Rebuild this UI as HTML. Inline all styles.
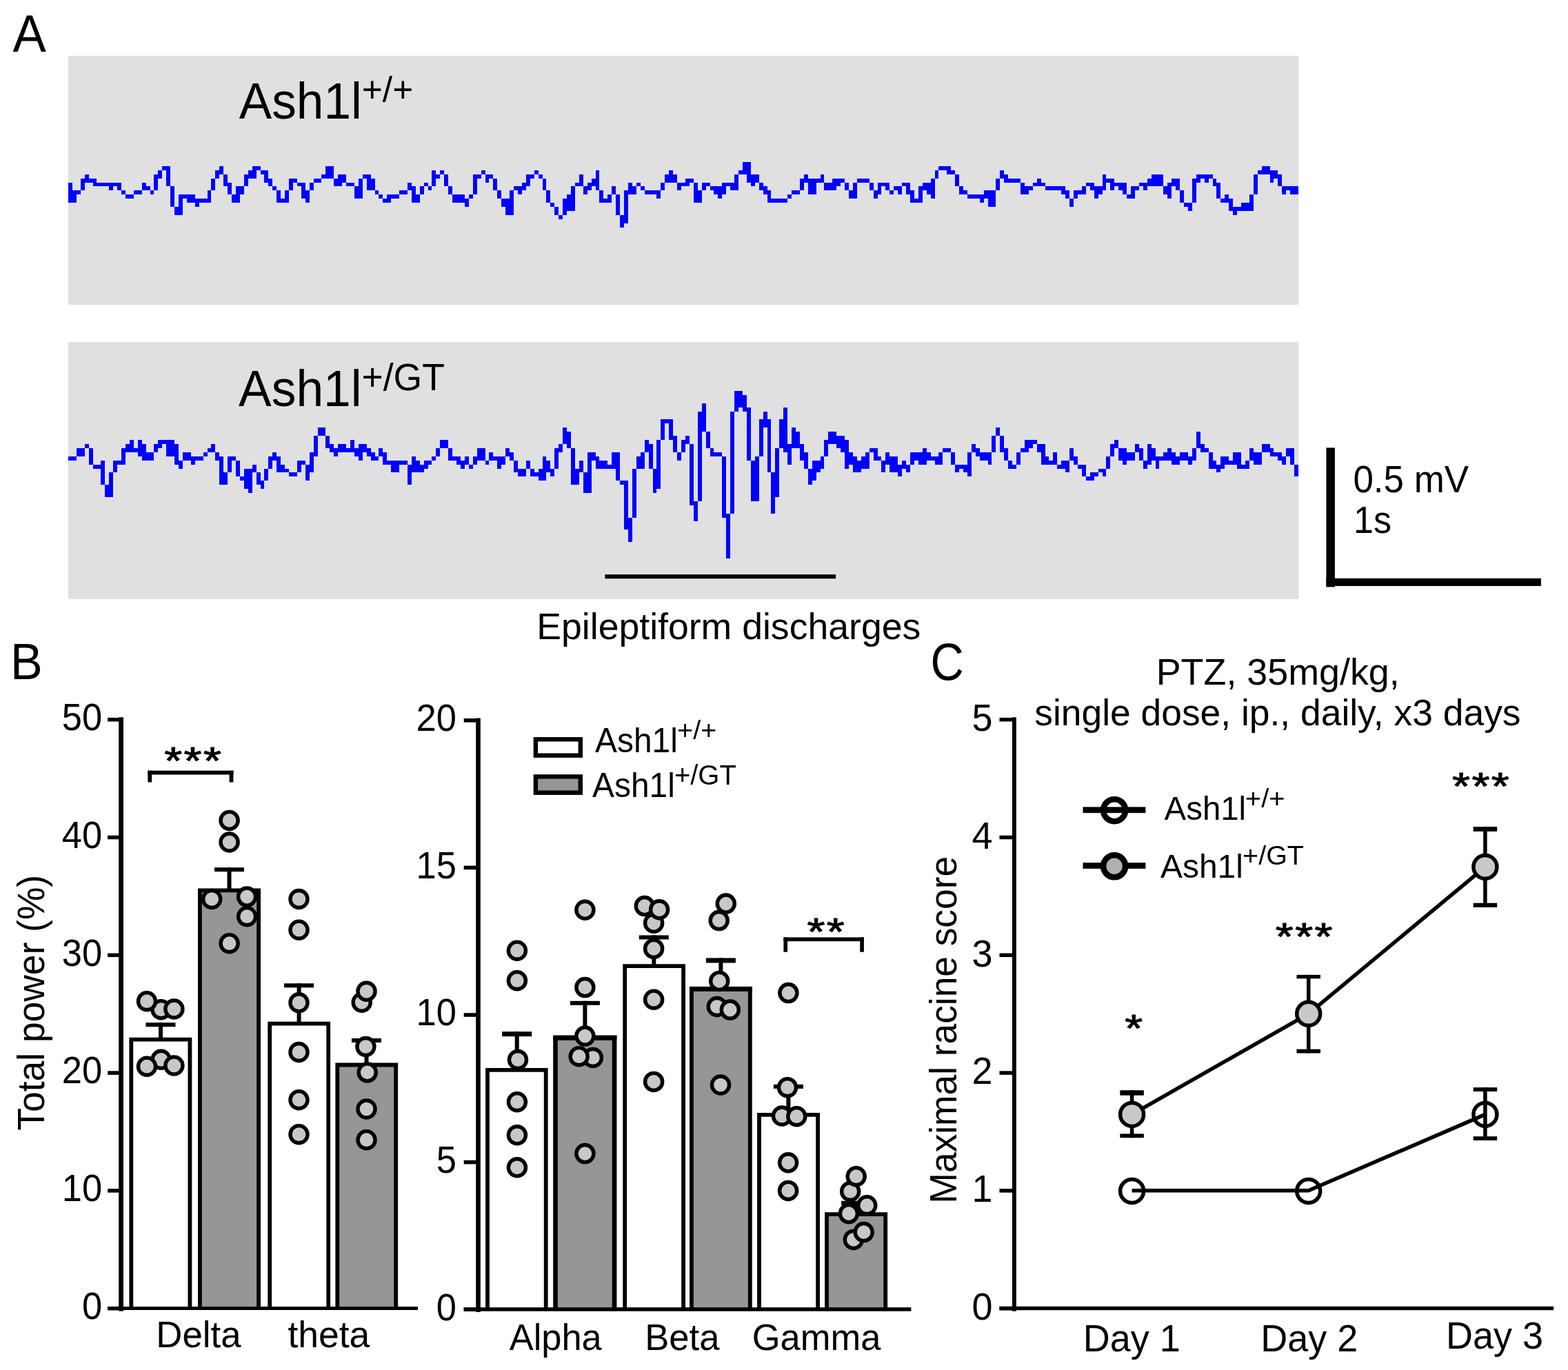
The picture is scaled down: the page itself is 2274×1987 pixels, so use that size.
<!DOCTYPE html>
<html lang="en">
<head>
<meta charset="utf-8">
<title>Ash1l EEG and seizure susceptibility figure</title>
<style>
html,body{margin:0;padding:0;background:#fff;}
body{width:2274px;height:1987px;overflow:hidden;}
svg{display:block;}
svg text{font-family:"Liberation Sans", sans-serif;fill:#000;}
</style>
</head>
<body>
<svg width="2274" height="1987" viewBox="0 0 2274 1987">
<rect x="0" y="0" width="2274" height="1987" fill="#fff"/>
<g id="panelA">
<rect x="99" y="81" width="1784.4" height="361" fill="#e0e0e0"/>
<rect x="99" y="496" width="1784.4" height="373" fill="#e0e0e0"/>
<text transform="translate(18.5 75) scale(1 1.045)" font-size="72.5">A</text>
<text transform="translate(346.7 171.6) scale(1 1.03)" font-size="71.25">Ash1l</text>
<text transform="translate(524.8 148.2) scale(1 1.005)" font-size="51.5">+/+</text>
<text transform="translate(346.1 589.3) scale(1 1.03)" font-size="71.4">Ash1l</text>
<text transform="translate(524.5 565.6) scale(1 1.03)" font-size="53.5">+/GT</text>
<path id="trace-wt" shape-rendering="crispEdges" fill="#0000ff" d="M99 265h6v29h-6zM105 276h6v18h-6zM111 276h6v6h-6zM117 259h6v17h-6zM123 253h6v12h-6zM129 259h6v6h-6zM135 259h5v11h-5zM140 265h18v5h-18zM158 265h6v11h-6zM164 265h6v5h-6zM170 265h6v11h-6zM176 276h6v6h-6zM182 282h12v6h-12zM194 276h12v6h-12zM206 265h6v11h-6zM212 270h6v6h-6zM218 276h5v6h-5zM223 253h6v23h-6zM229 247h6v12h-6zM235 241h6v6h-6zM241 241h6v29h-6zM247 270h6v30h-6zM253 300h6v12h-6zM259 282h6v30h-6zM265 282h6v6h-6zM271 282h12v12h-12zM283 288h6v12h-6zM289 288h12v6h-12zM301 276h5v18h-5zM306 259h6v17h-6zM312 247h6v12h-6zM318 241h6v12h-6zM324 253h6v17h-6zM330 265h6v17h-6zM336 282h6v12h-6zM342 270h6v24h-6zM348 270h6v12h-6zM354 253h6v17h-6zM360 247h6v12h-6zM366 241h6v18h-6zM372 241h6v6h-6zM378 247h5v6h-5zM383 247h6v18h-6zM389 259h6v11h-6zM395 270h6v6h-6zM401 276h6v18h-6zM407 288h6v6h-6zM413 276h6v18h-6zM419 259h6v17h-6zM425 259h6v6h-6zM431 265h6v5h-6zM437 265h6v23h-6zM443 276h6v18h-6zM449 265h6v11h-6zM455 259h11v6h-11zM466 253h6v6h-6zM472 241h12v18h-12zM484 259h6v11h-6zM490 253h6v17h-6zM496 253h6v12h-6zM502 265h12v5h-12zM514 270h6v18h-6zM520 259h6v29h-6zM526 253h6v6h-6zM532 253h6v23h-6zM538 259h6v17h-6zM544 276h5v6h-5zM549 282h6v6h-6zM555 288h6v6h-6zM561 282h6v12h-6zM567 282h12v6h-12zM579 276h12v6h-12zM591 265h6v11h-6zM597 270h6v24h-6zM603 282h6v12h-6zM609 270h6v12h-6zM615 265h6v5h-6zM621 270h5v6h-5zM626 247h6v23h-6zM632 253h6v6h-6zM638 247h6v6h-6zM644 253h6v17h-6zM650 270h6v12h-6zM656 282h18v12h-18zM674 288h6v12h-6zM680 282h6v6h-6zM686 253h6v29h-6zM692 253h6v6h-6zM698 247h6v6h-6zM704 253h5v12h-5zM709 253h6v6h-6zM715 259h6v17h-6zM721 276h6v12h-6zM727 288h6v12h-6zM733 288h6v24h-6zM739 276h6v36h-6zM745 270h6v6h-6zM751 270h6v12h-6zM757 265h6v11h-6zM763 253h6v17h-6zM769 253h6v6h-6zM775 247h6v6h-6zM781 253h6v6h-6zM787 259h5v17h-5zM792 276h6v18h-6zM798 294h6v6h-6zM804 300h6v12h-6zM810 312h6v6h-6zM816 288h6v24h-6zM822 282h6v24h-6zM828 270h6v36h-6zM834 265h6v5h-6zM840 253h6v17h-6zM846 270h6v12h-6zM852 265h6v11h-6zM858 259h6v11h-6zM864 247h5v29h-5zM869 276h6v18h-6zM875 288h6v6h-6zM881 282h6v12h-6zM887 270h6v12h-6zM893 282h6v30h-6zM899 312h6v18h-6zM905 276h6v48h-6zM911 265h6v17h-6zM917 270h6v12h-6zM923 265h6v5h-6zM929 270h6v6h-6zM935 276h17v6h-17zM952 276h6v12h-6zM958 265h6v11h-6zM964 253h6v12h-6zM970 247h6v18h-6zM976 253h6v12h-6zM982 265h6v11h-6zM988 265h6v5h-6zM994 259h6v11h-6zM1000 259h6v6h-6zM1006 265h6v29h-6zM1012 276h6v18h-6zM1018 265h6v11h-6zM1024 265h6v5h-6zM1030 270h5v6h-5zM1035 270h6v12h-6zM1041 270h6v18h-6zM1047 265h6v17h-6zM1053 265h6v5h-6zM1059 265h6v11h-6zM1065 253h6v23h-6zM1071 247h6v6h-6zM1077 235h6v18h-6zM1083 235h6v30h-6zM1089 253h6v17h-6zM1095 253h6v12h-6zM1101 265h6v11h-6zM1107 270h6v12h-6zM1113 276h5v18h-5zM1118 288h24v6h-24zM1142 282h6v6h-6zM1148 276h12v6h-12zM1160 259h6v17h-6zM1166 253h6v12h-6zM1172 259h12v23h-12zM1184 259h6v6h-6zM1190 253h5v12h-5zM1195 265h12v11h-12zM1207 259h6v17h-6zM1213 259h6v11h-6zM1219 259h6v6h-6zM1225 265h6v11h-6zM1231 276h6v12h-6zM1237 265h6v23h-6zM1243 259h18v6h-18zM1261 265h6v11h-6zM1267 276h6v12h-6zM1273 265h5v17h-5zM1278 265h6v5h-6zM1284 265h6v11h-6zM1290 276h6v6h-6zM1296 270h6v6h-6zM1302 270h6v12h-6zM1308 265h6v5h-6zM1314 265h6v17h-6zM1320 276h6v18h-6zM1326 288h6v6h-6zM1332 270h6v24h-6zM1338 265h6v11h-6zM1344 265h6v17h-6zM1350 259h6v29h-6zM1356 247h5v12h-5zM1361 241h12v6h-12zM1373 241h6v12h-6zM1379 247h6v6h-6zM1385 253h6v17h-6zM1391 270h6v12h-6zM1397 276h6v6h-6zM1403 282h18v6h-18zM1421 282h6v12h-6zM1427 276h6v12h-6zM1433 276h11v24h-11zM1444 259h6v17h-6zM1450 247h6v12h-6zM1456 253h6v12h-6zM1462 259h18v6h-18zM1480 265h6v17h-6zM1486 270h6v12h-6zM1492 270h6v6h-6zM1498 265h6v5h-6zM1504 259h6v11h-6zM1510 265h6v5h-6zM1516 270h23v6h-23zM1539 270h6v12h-6zM1545 276h6v12h-6zM1551 288h6v12h-6zM1557 276h6v12h-6zM1563 276h6v6h-6zM1569 270h6v12h-6zM1575 265h6v5h-6zM1581 265h6v11h-6zM1587 270h6v18h-6zM1593 270h6v12h-6zM1599 253h5v23h-5zM1604 259h6v6h-6zM1610 259h6v17h-6zM1616 265h6v5h-6zM1622 265h6v11h-6zM1628 265h6v17h-6zM1634 282h6v6h-6zM1640 270h6v18h-6zM1646 270h6v6h-6zM1652 265h6v5h-6zM1658 265h6v11h-6zM1664 259h6v11h-6zM1670 253h17v17h-17zM1687 270h6v12h-6zM1693 265h6v23h-6zM1699 259h6v11h-6zM1705 259h6v17h-6zM1711 276h6v18h-6zM1717 294h6v6h-6zM1723 294h6v12h-6zM1729 259h6v35h-6zM1735 253h6v12h-6zM1741 253h6v6h-6zM1747 253h6v12h-6zM1753 253h6v6h-6zM1759 259h5v11h-5zM1764 265h6v23h-6zM1770 288h6v6h-6zM1776 282h6v12h-6zM1782 288h6v18h-6zM1788 300h6v12h-6zM1794 300h6v6h-6zM1800 294h12v12h-12zM1812 282h6v24h-6zM1818 253h6v29h-6zM1824 247h6v6h-6zM1830 241h12v12h-12zM1842 247h5v18h-5zM1847 247h6v12h-6zM1853 253h6v17h-6zM1859 270h6v12h-6zM1865 270h6v6h-6zM1871 270h12v12h-12z"/>
<path id="trace-gt" shape-rendering="crispEdges" fill="#0000ff" d="M99 662h12v6h-12zM111 650h12v12h-12zM123 644h6v6h-6zM129 650h6v24h-6zM135 674h11v6h-11zM146 668h6v35h-6zM152 703h6v18h-6zM158 685h6v36h-6zM164 668h6v17h-6zM170 668h6v6h-6zM176 650h6v24h-6zM182 644h6v12h-6zM188 638h6v18h-6zM194 650h6v6h-6zM200 638h6v24h-6zM206 644h6v24h-6zM212 656h11v12h-11zM223 644h6v12h-6zM229 638h6v12h-6zM235 638h6v6h-6zM241 638h12v24h-12zM253 644h6v30h-6zM259 668h6v12h-6zM265 656h12v12h-12zM277 662h6v12h-6zM283 662h12v6h-12zM295 656h6v6h-6zM301 650h5v6h-5zM306 644h6v12h-6zM312 656h6v12h-6zM318 662h6v41h-6zM324 685h6v18h-6zM330 662h6v23h-6zM336 662h6v6h-6zM342 668h6v23h-6zM348 691h6v6h-6zM354 680h6v29h-6zM360 680h6v35h-6zM366 674h6v11h-6zM372 685h6v18h-6zM378 697h5v12h-5zM383 680h6v17h-6zM389 662h6v18h-6zM395 656h6v12h-6zM401 662h6v23h-6zM407 674h6v11h-6zM413 680h6v5h-6zM419 685h12v6h-12zM431 668h6v17h-6zM437 668h6v6h-6zM443 674h6v23h-6zM449 656h6v29h-6zM455 632h6v30h-6zM461 620h11v12h-11zM472 632h6v18h-6zM478 644h6v12h-6zM484 650h6v12h-6zM490 644h12v12h-12zM502 650h6v6h-6zM508 638h6v18h-6zM514 650h6v12h-6zM520 644h6v24h-6zM526 644h6v12h-6zM532 650h6v12h-6zM538 656h6v12h-6zM544 662h5v6h-5zM549 650h6v12h-6zM555 656h6v18h-6zM561 668h6v6h-6zM567 668h12v17h-12zM579 668h12v6h-12zM591 674h6v29h-6zM597 662h6v23h-6zM603 668h6v17h-6zM609 674h6v11h-6zM615 668h6v12h-6zM621 668h5v6h-5zM626 662h6v6h-6zM632 650h6v12h-6zM638 638h12v12h-12zM650 650h6v18h-6zM656 662h6v6h-6zM662 662h6v12h-6zM668 668h6v12h-6zM674 662h6v12h-6zM680 674h6v6h-6zM686 662h6v12h-6zM692 650h12v18h-12zM704 668h5v6h-5zM709 656h6v12h-6zM715 662h6v6h-6zM721 662h6v18h-6zM727 662h6v12h-6zM733 650h6v12h-6zM739 656h6v12h-6zM745 668h6v17h-6zM751 680h12v11h-12zM763 668h6v12h-6zM769 680h6v11h-6zM775 685h6v6h-6zM781 680h6v17h-6zM787 662h5v35h-5zM792 668h6v17h-6zM798 680h6v11h-6zM804 650h6v30h-6zM810 644h6v12h-6zM816 620h6v24h-6zM822 626h6v24h-6zM828 650h6v53h-6zM834 680h6v23h-6zM840 668h6v17h-6zM846 685h6v30h-6zM852 656h6v59h-6zM858 656h6v12h-6zM864 662h5v18h-5zM869 668h12v12h-12zM881 674h6v6h-6zM887 656h6v24h-6zM893 656h6v41h-6zM899 697h6v6h-6zM905 697h6v71h-6zM911 751h6v35h-6zM917 680h6v71h-6zM923 662h6v18h-6zM929 656h6v24h-6zM935 638h6v18h-6zM941 644h6v36h-6zM947 680h5v35h-5zM952 638h6v71h-6zM958 608h6v30h-6zM964 608h6v6h-6zM970 608h6v30h-6zM976 632h6v24h-6zM982 656h6v12h-6zM988 638h6v18h-6zM994 632h6v12h-6zM1000 644h6v89h-6zM1006 727h6v29h-6zM1012 597h6v130h-6zM1018 585h6v41h-6zM1024 626h6v24h-6zM1030 650h5v12h-5zM1035 656h12v6h-12zM1047 662h6v89h-6zM1053 745h6v65h-6zM1059 597h6v148h-6zM1065 567h6v30h-6zM1071 567h6v24h-6zM1077 573h6v24h-6zM1083 591h6v77h-6zM1089 668h6v59h-6zM1095 662h6v65h-6zM1101 608h6v54h-6zM1107 597h6v23h-6zM1113 608h5v77h-5zM1118 685h6v60h-6zM1124 650h6v71h-6zM1130 608h6v42h-6zM1136 591h6v65h-6zM1142 644h6v30h-6zM1148 620h6v30h-6zM1154 626h6v24h-6zM1160 644h6v24h-6zM1166 656h6v24h-6zM1172 680h6v23h-6zM1178 668h6v29h-6zM1184 668h6v17h-6zM1190 662h5v18h-5zM1195 638h6v24h-6zM1201 626h12v18h-12zM1213 632h6v18h-6zM1219 632h6v24h-6zM1225 638h6v42h-6zM1231 656h6v18h-6zM1237 662h6v23h-6zM1243 668h6v17h-6zM1249 662h6v18h-6zM1255 656h6v24h-6zM1261 650h6v6h-6zM1267 650h6v18h-6zM1273 662h5v6h-5zM1278 668h6v17h-6zM1284 656h6v18h-6zM1290 662h12v23h-12zM1302 674h6v17h-6zM1308 668h6v12h-6zM1314 674h6v11h-6zM1320 656h6v18h-6zM1326 656h6v12h-6zM1332 656h6v18h-6zM1338 650h6v24h-6zM1344 656h6v12h-6zM1350 662h6v6h-6zM1356 662h5v12h-5zM1361 656h6v18h-6zM1367 650h12v6h-12zM1379 656h6v18h-6zM1385 674h6v11h-6zM1391 674h6v6h-6zM1397 674h6v11h-6zM1403 656h6v35h-6zM1409 644h6v12h-6zM1415 650h6v12h-6zM1421 656h12v12h-12zM1433 656h5v18h-5zM1438 632h6v24h-6zM1444 620h6v12h-6zM1450 632h6v24h-6zM1456 650h6v18h-6zM1462 668h6v12h-6zM1468 674h6v6h-6zM1474 656h6v18h-6zM1480 650h6v6h-6zM1486 638h6v18h-6zM1492 638h6v12h-6zM1498 638h6v6h-6zM1504 644h6v12h-6zM1510 644h6v30h-6zM1516 662h5v12h-5zM1521 668h6v6h-6zM1527 656h6v18h-6zM1533 674h6v6h-6zM1539 668h6v12h-6zM1545 668h6v17h-6zM1551 650h6v18h-6zM1557 662h6v12h-6zM1563 674h6v6h-6zM1569 674h6v17h-6zM1575 691h6v6h-6zM1581 685h6v12h-6zM1587 685h6v6h-6zM1593 680h6v5h-6zM1599 680h5v11h-5zM1604 662h6v18h-6zM1610 644h6v18h-6zM1616 638h6v12h-6zM1622 650h6v18h-6zM1628 650h6v24h-6zM1634 656h12v12h-12zM1646 644h6v12h-6zM1652 650h6v18h-6zM1658 668h6v12h-6zM1664 644h6v30h-6zM1670 650h6v18h-6zM1676 662h5v18h-5zM1681 662h6v6h-6zM1687 656h6v12h-6zM1693 650h6v18h-6zM1699 656h6v18h-6zM1705 662h6v12h-6zM1711 656h12v12h-12zM1723 662h6v12h-6zM1729 650h6v18h-6zM1735 626h6v24h-6zM1741 644h6v12h-6zM1747 650h6v6h-6zM1753 656h6v24h-6zM1759 668h5v12h-5zM1764 674h6v11h-6zM1770 662h6v18h-6zM1776 662h6v12h-6zM1782 668h6v6h-6zM1788 656h6v18h-6zM1794 656h6v24h-6zM1800 674h6v6h-6zM1806 668h6v12h-6zM1812 650h6v18h-6zM1818 656h12v18h-12zM1830 644h12v12h-12zM1842 650h5v12h-5zM1847 656h6v6h-6zM1853 656h6v12h-6zM1859 662h6v12h-6zM1865 650h6v12h-6zM1871 650h6v24h-6zM1877 674h6v17h-6z"/>
<rect x="877.4" y="833.2" width="334.7" height="6" fill="#000"/>
<text transform="translate(778.3 926.6) scale(1 1.01)" font-size="53.6">Epileptiform discharges</text>
<rect x="1923.4" y="649.4" width="12.5" height="202" fill="#000"/>
<rect x="1923.4" y="838.8" width="311.5" height="11.1" fill="#000"/>
<text transform="translate(1962.4 713.7) scale(1 1.036)" font-size="52.9">0.5 mV</text>
<text transform="translate(1963 773) scale(1 1.05)" font-size="52">1s</text>
</g>
<g id="panelB">
<text transform="translate(15.1 985.2) scale(1 1.06)" font-size="70.1">B</text>
<rect x="172.2" y="1040.3" width="6.8" height="861.3" fill="#000"/>
<rect x="156.1" y="1894.95" width="19.5" height="5.5" fill="#000"/>
<text transform="translate(148.2 1913) scale(1 1.04)" font-size="52.5" text-anchor="end">0</text>
<rect x="156.1" y="1724.15" width="19.5" height="5.5" fill="#000"/>
<text transform="translate(148.2 1742.2) scale(1 1.04)" font-size="52.5" text-anchor="end">10</text>
<rect x="156.1" y="1553.35" width="19.5" height="5.5" fill="#000"/>
<text transform="translate(148.2 1571.4) scale(1 1.04)" font-size="52.5" text-anchor="end">20</text>
<rect x="156.1" y="1382.55" width="19.5" height="5.5" fill="#000"/>
<text transform="translate(148.2 1400.6) scale(1 1.04)" font-size="52.5" text-anchor="end">30</text>
<rect x="156.1" y="1211.75" width="19.5" height="5.5" fill="#000"/>
<text transform="translate(148.2 1229.8) scale(1 1.04)" font-size="52.5" text-anchor="end">40</text>
<rect x="156.1" y="1040.95" width="19.5" height="5.5" fill="#000"/>
<text transform="translate(148.2 1059) scale(1 1.04)" font-size="52.5" text-anchor="end">50</text>
<path d="M190.3 1899.5V1507.6H275.4V1899.5" fill="#fff" stroke="#000" stroke-width="5.8" stroke-linejoin="miter"/>
<path d="M289.9 1899.5V1291.4H375.1V1899.5" fill="#969696" stroke="#000" stroke-width="5.8" stroke-linejoin="miter"/>
<path d="M391.2 1899.5V1484.7H476.2V1899.5" fill="#fff" stroke="#000" stroke-width="5.8" stroke-linejoin="miter"/>
<path d="M489.3 1899.5V1544.5H574.2V1899.5" fill="#969696" stroke="#000" stroke-width="5.8" stroke-linejoin="miter"/>
<rect x="156.1" y="1895.1" width="449.9" height="4.9" fill="#000"/>
<rect x="230" y="1483.2" width="6" height="22.8" fill="#000"/>
<rect x="211.5" y="1483.2" width="43" height="6" fill="#000"/>
<rect x="329.5" y="1258.2" width="6" height="31.8" fill="#000"/>
<rect x="311" y="1258.2" width="43" height="6" fill="#000"/>
<rect x="430.6" y="1426.3" width="6" height="57.7" fill="#000"/>
<rect x="412.1" y="1426.3" width="43" height="6" fill="#000"/>
<rect x="528.5" y="1506" width="6" height="37" fill="#000"/>
<rect x="510" y="1506" width="43" height="6" fill="#000"/>
<circle cx="233.6" cy="1464.2" r="12.55" fill="#c8c8c8" stroke="#000" stroke-width="5.4"/>
<circle cx="213" cy="1452.2" r="12.55" fill="#c8c8c8" stroke="#000" stroke-width="5.4"/>
<circle cx="252.4" cy="1463.5" r="12.55" fill="#c8c8c8" stroke="#000" stroke-width="5.4"/>
<circle cx="233.6" cy="1536.8" r="12.55" fill="#c8c8c8" stroke="#000" stroke-width="5.4"/>
<circle cx="213" cy="1546.7" r="12.55" fill="#c8c8c8" stroke="#000" stroke-width="5.4"/>
<circle cx="252.4" cy="1545.5" r="12.55" fill="#c8c8c8" stroke="#000" stroke-width="5.4"/>
<circle cx="332.6" cy="1189.9" r="12.55" fill="#c8c8c8" stroke="#000" stroke-width="5.4"/>
<circle cx="332.6" cy="1221.5" r="12.55" fill="#c8c8c8" stroke="#000" stroke-width="5.4"/>
<circle cx="307.2" cy="1304" r="12.55" fill="#c8c8c8" stroke="#000" stroke-width="5.4"/>
<circle cx="358.1" cy="1329.2" r="12.55" fill="#c8c8c8" stroke="#000" stroke-width="5.4"/>
<circle cx="358.1" cy="1300.6" r="12.55" fill="#c8c8c8" stroke="#000" stroke-width="5.4"/>
<circle cx="332.6" cy="1368.2" r="12.55" fill="#c8c8c8" stroke="#000" stroke-width="5.4"/>
<circle cx="433.5" cy="1304" r="12.55" fill="#c8c8c8" stroke="#000" stroke-width="5.4"/>
<circle cx="433.5" cy="1348.7" r="12.55" fill="#c8c8c8" stroke="#000" stroke-width="5.4"/>
<circle cx="433.5" cy="1454.3" r="12.55" fill="#c8c8c8" stroke="#000" stroke-width="5.4"/>
<circle cx="433.5" cy="1526" r="12.55" fill="#c8c8c8" stroke="#000" stroke-width="5.4"/>
<circle cx="433.5" cy="1595.2" r="12.55" fill="#c8c8c8" stroke="#000" stroke-width="5.4"/>
<circle cx="433.5" cy="1645.2" r="12.55" fill="#c8c8c8" stroke="#000" stroke-width="5.4"/>
<circle cx="524.7" cy="1453.8" r="12.55" fill="#c8c8c8" stroke="#000" stroke-width="5.4"/>
<circle cx="531.5" cy="1437.8" r="12.55" fill="#c8c8c8" stroke="#000" stroke-width="5.4"/>
<circle cx="530.4" cy="1518" r="12.55" fill="#c8c8c8" stroke="#000" stroke-width="5.4"/>
<circle cx="532.7" cy="1555.4" r="12.55" fill="#c8c8c8" stroke="#000" stroke-width="5.4"/>
<circle cx="531.5" cy="1608.5" r="12.55" fill="#c8c8c8" stroke="#000" stroke-width="5.4"/>
<circle cx="531.5" cy="1653.2" r="12.55" fill="#c8c8c8" stroke="#000" stroke-width="5.4"/>
<rect x="214.4" y="1117.7" width="124" height="5.8" fill="#000"/>
<rect x="214.4" y="1117.7" width="5.8" height="16.8" fill="#000"/>
<rect x="332.6" y="1117.7" width="5.8" height="16.8" fill="#000"/>
<text transform="translate(238.14 1122.04) scale(1.12 0.94)" font-size="59.5" letter-spacing="2.2" stroke="#000" stroke-width="1.2" stroke-linejoin="round">***</text>
<text transform="translate(226.3 1953.6) scale(1 1.01)" font-size="52.8">Delta</text>
<text transform="translate(417.4 1953.6) scale(1 1.01)" font-size="53.5">theta</text>
<text transform="translate(63.6 1639.7) rotate(-90) scale(1 1.03)" font-size="53.4">Total power (%)</text>
<rect x="690.2" y="1041.5" width="6.6" height="861.5" fill="#000"/>
<rect x="672.7" y="1896.4" width="20.8" height="5.6" fill="#000"/>
<text transform="translate(661.9 1914.5) scale(1 1.04)" font-size="52.5" text-anchor="end">0</text>
<rect x="672.7" y="1682.8" width="20.8" height="5.6" fill="#000"/>
<text transform="translate(661.9 1700.9) scale(1 1.04)" font-size="52.5" text-anchor="end">5</text>
<rect x="672.7" y="1469.2" width="20.8" height="5.6" fill="#000"/>
<text transform="translate(661.9 1487.3) scale(1 1.04)" font-size="52.5" text-anchor="end">10</text>
<rect x="672.7" y="1255.6" width="20.8" height="5.6" fill="#000"/>
<text transform="translate(661.9 1273.7) scale(1 1.04)" font-size="52.5" text-anchor="end">15</text>
<rect x="672.7" y="1042" width="20.8" height="5.6" fill="#000"/>
<text transform="translate(661.9 1060.1) scale(1 1.04)" font-size="52.5" text-anchor="end">20</text>
<path d="M707 1901.2V1551.8H791.7V1901.2" fill="#fff" stroke="#000" stroke-width="5.8" stroke-linejoin="miter"/>
<path d="M805.5 1901.2V1505H891.1V1901.2" fill="#969696" stroke="#000" stroke-width="6.6" stroke-linejoin="miter"/>
<rect x="802.2" y="1501.7" width="92.2" height="7.1" fill="#000"/>
<path d="M906.2 1901.2V1401.1H991.1V1901.2" fill="#fff" stroke="#000" stroke-width="5.8" stroke-linejoin="miter"/>
<path d="M1002.9 1901.2V1433.8H1087.8V1901.2" fill="#969696" stroke="#000" stroke-width="5.8" stroke-linejoin="miter"/>
<rect x="1000" y="1430.9" width="90.7" height="7" fill="#000"/>
<path d="M1101 1901.2V1616.9H1186.1V1901.2" fill="#fff" stroke="#000" stroke-width="5.8" stroke-linejoin="miter"/>
<path d="M1199 1901.2V1761.2H1284.2V1901.2" fill="#969696" stroke="#000" stroke-width="5.8" stroke-linejoin="miter"/>
<rect x="672.7" y="1896.2" width="648.7" height="5.5" fill="#000"/>
<rect x="746.7" y="1496.2" width="6" height="54.8" fill="#000"/>
<rect x="728.2" y="1496.2" width="43" height="7" fill="#000"/>
<rect x="845.4" y="1451.8" width="6" height="52.2" fill="#000"/>
<rect x="826.9" y="1451.8" width="43" height="6" fill="#000"/>
<rect x="945.3" y="1356.5" width="6" height="43.5" fill="#000"/>
<rect x="926.8" y="1356.5" width="43" height="6" fill="#000"/>
<rect x="1042.4" y="1389.5" width="6" height="43.5" fill="#000"/>
<rect x="1023.9" y="1389.5" width="43" height="7" fill="#000"/>
<rect x="1140.4" y="1572.9" width="6" height="43.1" fill="#000"/>
<rect x="1121.9" y="1572.9" width="43" height="6" fill="#000"/>
<rect x="1238.6" y="1741.8" width="6" height="18.2" fill="#000"/>
<rect x="1220.1" y="1741.8" width="43" height="6" fill="#000"/>
<circle cx="749.9" cy="1378.7" r="12.55" fill="#c8c8c8" stroke="#000" stroke-width="5.4"/>
<circle cx="749.9" cy="1422.2" r="12.55" fill="#c8c8c8" stroke="#000" stroke-width="5.4"/>
<circle cx="751" cy="1537" r="12.55" fill="#c8c8c8" stroke="#000" stroke-width="5.4"/>
<circle cx="749.9" cy="1598.2" r="12.55" fill="#c8c8c8" stroke="#000" stroke-width="5.4"/>
<circle cx="749.9" cy="1646.3" r="12.55" fill="#c8c8c8" stroke="#000" stroke-width="5.4"/>
<circle cx="749.9" cy="1693.3" r="12.55" fill="#c8c8c8" stroke="#000" stroke-width="5.4"/>
<circle cx="848.4" cy="1319.8" r="12.55" fill="#c8c8c8" stroke="#000" stroke-width="5.4"/>
<circle cx="848.4" cy="1432.1" r="12.55" fill="#c8c8c8" stroke="#000" stroke-width="5.4"/>
<circle cx="848.4" cy="1502.6" r="12.55" fill="#c8c8c8" stroke="#000" stroke-width="5.4"/>
<circle cx="859.9" cy="1534" r="12.55" fill="#c8c8c8" stroke="#000" stroke-width="5.4"/>
<circle cx="839.7" cy="1532.2" r="12.55" fill="#c8c8c8" stroke="#000" stroke-width="5.4"/>
<circle cx="848.4" cy="1673.1" r="12.55" fill="#c8c8c8" stroke="#000" stroke-width="5.4"/>
<circle cx="934.8" cy="1314.1" r="12.55" fill="#c8c8c8" stroke="#000" stroke-width="5.4"/>
<circle cx="948.1" cy="1338.8" r="12.55" fill="#c8c8c8" stroke="#000" stroke-width="5.4"/>
<circle cx="956.1" cy="1319.3" r="12.55" fill="#c8c8c8" stroke="#000" stroke-width="5.4"/>
<circle cx="948.1" cy="1375.9" r="12.55" fill="#c8c8c8" stroke="#000" stroke-width="5.4"/>
<circle cx="948.1" cy="1449.7" r="12.55" fill="#c8c8c8" stroke="#000" stroke-width="5.4"/>
<circle cx="948.1" cy="1568.9" r="12.55" fill="#c8c8c8" stroke="#000" stroke-width="5.4"/>
<circle cx="1042.7" cy="1335.1" r="12.55" fill="#c8c8c8" stroke="#000" stroke-width="5.4"/>
<circle cx="1052.8" cy="1310.6" r="12.55" fill="#c8c8c8" stroke="#000" stroke-width="5.4"/>
<circle cx="1043.2" cy="1422.9" r="12.55" fill="#c8c8c8" stroke="#000" stroke-width="5.4"/>
<circle cx="1039.8" cy="1460" r="12.55" fill="#c8c8c8" stroke="#000" stroke-width="5.4"/>
<circle cx="1058.8" cy="1464.6" r="12.55" fill="#c8c8c8" stroke="#000" stroke-width="5.4"/>
<circle cx="1045" cy="1573.5" r="12.55" fill="#c8c8c8" stroke="#000" stroke-width="5.4"/>
<circle cx="1143.4" cy="1440.1" r="12.55" fill="#c8c8c8" stroke="#000" stroke-width="5.4"/>
<circle cx="1142" cy="1577.2" r="12.55" fill="#c8c8c8" stroke="#000" stroke-width="5.4"/>
<circle cx="1134" cy="1618.5" r="12.55" fill="#c8c8c8" stroke="#000" stroke-width="5.4"/>
<circle cx="1155.3" cy="1619.2" r="12.55" fill="#c8c8c8" stroke="#000" stroke-width="5.4"/>
<circle cx="1143.1" cy="1686.3" r="12.55" fill="#c8c8c8" stroke="#000" stroke-width="5.4"/>
<circle cx="1143.1" cy="1726.9" r="12.55" fill="#c8c8c8" stroke="#000" stroke-width="5.4"/>
<circle cx="1233.2" cy="1728" r="12.55" fill="#c8c8c8" stroke="#000" stroke-width="5.4"/>
<circle cx="1241.7" cy="1706.2" r="12.55" fill="#c8c8c8" stroke="#000" stroke-width="5.4"/>
<circle cx="1257.3" cy="1748.2" r="12.55" fill="#c8c8c8" stroke="#000" stroke-width="5.4"/>
<circle cx="1230.9" cy="1760.1" r="12.55" fill="#c8c8c8" stroke="#000" stroke-width="5.4"/>
<circle cx="1237.8" cy="1797.9" r="12.55" fill="#c8c8c8" stroke="#000" stroke-width="5.4"/>
<circle cx="1252.7" cy="1787.1" r="12.55" fill="#c8c8c8" stroke="#000" stroke-width="5.4"/>
<rect x="1136.4" y="1359.5" width="116.5" height="5.65" fill="#000"/>
<rect x="1136.4" y="1359.5" width="5.65" height="21.2" fill="#000"/>
<rect x="1247.25" y="1359.5" width="5.65" height="21.2" fill="#000"/>
<text transform="translate(1170.44 1369.64) scale(1.12 0.94)" font-size="59.5" letter-spacing="2.2" stroke="#000" stroke-width="1.2" stroke-linejoin="round">**</text>
<text transform="translate(738.7 1958.4) scale(1 1.02)" font-size="52.4">Alpha</text>
<text transform="translate(935.3 1958.4) scale(1 1.03)" font-size="52.6">Beta</text>
<text transform="translate(1090.7 1958.4) scale(1 1.03)" font-size="52.5">Gamma</text>
<rect x="776.9" y="1072.3" width="64.9" height="23.4" fill="#fff" stroke="#000" stroke-width="6.4"/>
<rect x="776.9" y="1126.4" width="64.9" height="23.3" fill="#969696" stroke="#000" stroke-width="6.4"/>
<text transform="translate(863.1 1090.5) scale(1 1.028)" font-size="47.85">Ash1l</text>
<text transform="translate(982.1 1071.5) scale(1 0.98)" font-size="39.5">+/+</text>
<text transform="translate(859.1 1155.7) scale(1 1.028)" font-size="47.85">Ash1l</text>
<text transform="translate(977.9 1137.5) scale(1 1.0)" font-size="40">+/GT</text>
</g>
<g id="panelC">
<text transform="translate(1349.5 986.3) scale(1 1.14)" font-size="67">C</text>
<rect x="1468" y="1040.3" width="5.8" height="861.4" fill="#000"/>
<rect x="1449.5" y="1894.95" width="21.4" height="5.5" fill="#000"/>
<text transform="translate(1439.6 1914) scale(1 1.02)" font-size="54" text-anchor="end">0</text>
<rect x="1449.5" y="1724.15" width="21.4" height="5.5" fill="#000"/>
<text transform="translate(1439.6 1743.2) scale(1 1.02)" font-size="54" text-anchor="end">1</text>
<rect x="1449.5" y="1553.35" width="21.4" height="5.5" fill="#000"/>
<text transform="translate(1439.6 1572.4) scale(1 1.02)" font-size="54" text-anchor="end">2</text>
<rect x="1449.5" y="1382.55" width="21.4" height="5.5" fill="#000"/>
<text transform="translate(1439.6 1401.6) scale(1 1.02)" font-size="54" text-anchor="end">3</text>
<rect x="1449.5" y="1211.75" width="21.4" height="5.5" fill="#000"/>
<text transform="translate(1439.6 1230.8) scale(1 1.02)" font-size="54" text-anchor="end">4</text>
<rect x="1449.5" y="1040.95" width="21.4" height="5.5" fill="#000"/>
<text transform="translate(1439.6 1060) scale(1 1.02)" font-size="54" text-anchor="end">5</text>
<rect x="1449.5" y="1894.8" width="803.6" height="5.4" fill="#000"/>
<text transform="translate(1676.7 993.4) scale(1 1.01)" font-size="53.85">PTZ, 35mg/kg,</text>
<text transform="translate(1500.2 1052.1) scale(1 1.01)" font-size="53.4">single dose, ip., daily, x3 days</text>
<polyline points="1641.6,1616.4 1897.7,1470.3 2153.9,1257.4" fill="none" stroke="#000" stroke-width="5.5" stroke-linejoin="round"/>
<rect x="1638.85" y="1581.3" width="5.5" height="68.9" fill="#000"/>
<rect x="1624.35" y="1581.3" width="34.5" height="7.4" fill="#000"/>
<rect x="1624.35" y="1644.4" width="34.5" height="5.8" fill="#000"/>
<rect x="1894.95" y="1413.9" width="5.5" height="113.6" fill="#000"/>
<rect x="1880.45" y="1413.9" width="34.5" height="5.4" fill="#000"/>
<rect x="1880.45" y="1521.7" width="34.5" height="5.8" fill="#000"/>
<rect x="2151.15" y="1199.1" width="5.5" height="116.8" fill="#000"/>
<rect x="2136.65" y="1199.1" width="34.5" height="6.8" fill="#000"/>
<rect x="2136.65" y="1309.7" width="34.5" height="6.2" fill="#000"/>
<circle cx="1641.6" cy="1616.4" r="17" fill="#c8c8c8" stroke="#000" stroke-width="5.5"/>
<circle cx="1897.7" cy="1470.3" r="17" fill="#c8c8c8" stroke="#000" stroke-width="5.5"/>
<circle cx="2153.9" cy="1257.4" r="17" fill="#c8c8c8" stroke="#000" stroke-width="5.5"/>
<rect x="2151.15" y="1577.2" width="5.5" height="76.8" fill="#000"/>
<rect x="2136.65" y="1577.2" width="34.5" height="5.8" fill="#000"/>
<rect x="2136.65" y="1648.2" width="34.5" height="5.8" fill="#000"/>
<polyline points="1641.6,1726.8 1897.7,1726.8 2153.9,1616.4" fill="none" stroke="#000" stroke-width="5.5" stroke-linejoin="round"/>
<circle cx="1641.6" cy="1727.5" r="17" fill="none" stroke="#000" stroke-width="5.5"/>
<circle cx="1897.7" cy="1727.5" r="17" fill="none" stroke="#000" stroke-width="5.5"/>
<circle cx="2153.9" cy="1616.4" r="17" fill="none" stroke="#000" stroke-width="5.5"/>
<circle cx="1616.1" cy="1175.2" r="16" fill="none" stroke="#000" stroke-width="8.6"/>
<rect x="1570.5" y="1170.4" width="90.9" height="8.7" fill="#000"/>
<rect x="1570.5" y="1251.2" width="90.9" height="8.7" fill="#000"/>
<circle cx="1616.1" cy="1256.3" r="16" fill="#b0b0b0" stroke="#000" stroke-width="8.6"/>
<text transform="translate(1688.6 1188.6) scale(1 1.0)" font-size="47.4">Ash1l</text>
<text transform="translate(1805.8 1171) scale(1 0.97)" font-size="40">+/+</text>
<text transform="translate(1683 1272.5) scale(1 1.0)" font-size="47.9">Ash1l</text>
<text transform="translate(1802.1 1253.7) scale(1 0.99)" font-size="39.5">+/GT</text>
<text transform="translate(1631.34 1509.64) scale(1.12 0.94)" font-size="59.5" letter-spacing="2.2" stroke="#000" stroke-width="1.2" stroke-linejoin="round">*</text>
<text transform="translate(1849.84 1376.74) scale(1.12 0.94)" font-size="59.5" letter-spacing="2.2" stroke="#000" stroke-width="1.2" stroke-linejoin="round">***</text>
<text transform="translate(2106.04 1159.04) scale(1.12 0.94)" font-size="59.5" letter-spacing="2.2" stroke="#000" stroke-width="1.2" stroke-linejoin="round">***</text>
<text transform="translate(1570.7 1959.5) scale(1 1.03)" font-size="54">Day 1</text>
<text transform="translate(1828.3 1959.5) scale(1 1.03)" font-size="54">Day 2</text>
<text transform="translate(2097 1956.1) scale(1 1.03)" font-size="54">Day 3</text>
<text transform="translate(1387 1745.4) rotate(-90) scale(1 1.03)" font-size="53.3">Maximal racine score</text>
</g>
</svg>
</body>
</html>
